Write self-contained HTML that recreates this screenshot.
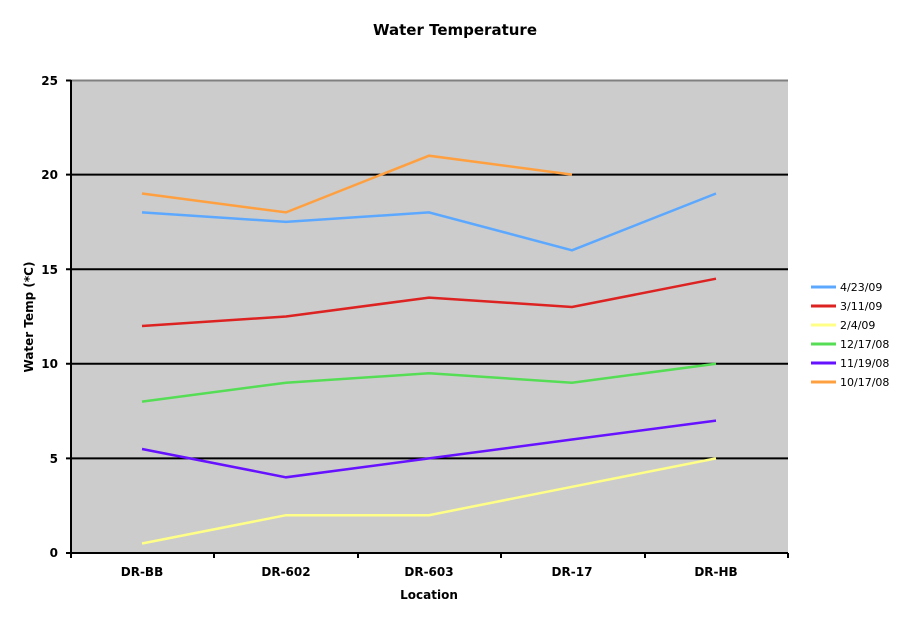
<!DOCTYPE html>
<html><head><meta charset="utf-8"><style>body{margin:0;background:#fff}svg{display:block}</style></head><body>
<svg width="911" height="623" xmlns="http://www.w3.org/2000/svg" font-family="'DejaVu Sans', Verdana, sans-serif">
<rect x="71" y="80" width="717" height="473" fill="#cccccc"/>
<line x1="71" y1="80.5" x2="788" y2="80.5" stroke="#808080" stroke-width="2"/>
<g stroke="#000" stroke-width="2">
<line x1="66" y1="174.6" x2="788" y2="174.6"/>
<line x1="66" y1="269.2" x2="788" y2="269.2"/>
<line x1="66" y1="363.8" x2="788" y2="363.8"/>
<line x1="66" y1="458.4" x2="788" y2="458.4"/>
<line x1="66" y1="80.5" x2="71" y2="80.5"/>
<line x1="71" y1="80" x2="71" y2="553"/>
<line x1="66" y1="553" x2="788" y2="553"/>
<line x1="71" y1="553" x2="71" y2="558"/>
<line x1="214" y1="553" x2="214" y2="558"/>
<line x1="358" y1="553" x2="358" y2="558"/>
<line x1="501" y1="553" x2="501" y2="558"/>
<line x1="645" y1="553" x2="645" y2="558"/>
<line x1="788" y1="553" x2="788" y2="558"/>
</g>
<g fill="none" stroke-width="2.5">
<polyline stroke="#ffa040" points="142,193.5 286,212.4 429,155.7 572,174.6"/>
<polyline stroke="#5ca8ff" points="142,212.4 286,221.9 429,212.4 572,250.3 716,193.5"/>
<polyline stroke="#dd2222" points="142,326 286,316.5 429,297.6 572,307 716,278.7"/>
<polyline stroke="#55dd55" points="142,401.6 286,382.7 429,373.3 572,382.7 716,363.8"/>
<polyline stroke="#6611ff" points="142,449 286,477.3 429,458.4 572,439.5 716,420.6"/>
<polyline stroke="#ffff88" points="142,543.5 286,515.2 429,515.2 572,486.8 716,458.4"/>
</g>
<g font-size="12" font-weight="bold" text-anchor="end">
<text x="58" y="85">25</text><text x="58" y="179">20</text><text x="58" y="274">15</text>
<text x="58" y="368">10</text><text x="58" y="463">5</text><text x="58" y="557">0</text>
</g>
<g font-size="12" font-weight="bold" text-anchor="middle">
<text x="142" y="576">DR-BB</text><text x="286" y="576">DR-602</text><text x="429" y="576">DR-603</text>
<text x="572" y="576">DR-17</text><text x="716" y="576">DR-HB</text>
<text x="429" y="599">Location</text>
</g>
<text x="455" y="35" font-size="15" font-weight="bold" text-anchor="middle">Water Temperature</text>
<text transform="translate(33,317) rotate(-90)" font-size="12" font-weight="bold" text-anchor="middle">Water Temp (*C)</text>
<g stroke-width="3">
<line x1="811" y1="287" x2="836" y2="287" stroke="#5ca8ff"/>
<line x1="811" y1="306" x2="836" y2="306" stroke="#dd2222"/>
<line x1="811" y1="325" x2="836" y2="325" stroke="#ffff88"/>
<line x1="811" y1="344" x2="836" y2="344" stroke="#55dd55"/>
<line x1="811" y1="363" x2="836" y2="363" stroke="#6611ff"/>
<line x1="811" y1="382" x2="836" y2="382" stroke="#ffa040"/>
</g>
<g font-size="11">
<text x="840" y="291">4/23/09</text><text x="840" y="310">3/11/09</text><text x="840" y="329">2/4/09</text>
<text x="840" y="348">12/17/08</text><text x="840" y="367">11/19/08</text><text x="840" y="386">10/17/08</text>
</g>
</svg>
</body></html>
